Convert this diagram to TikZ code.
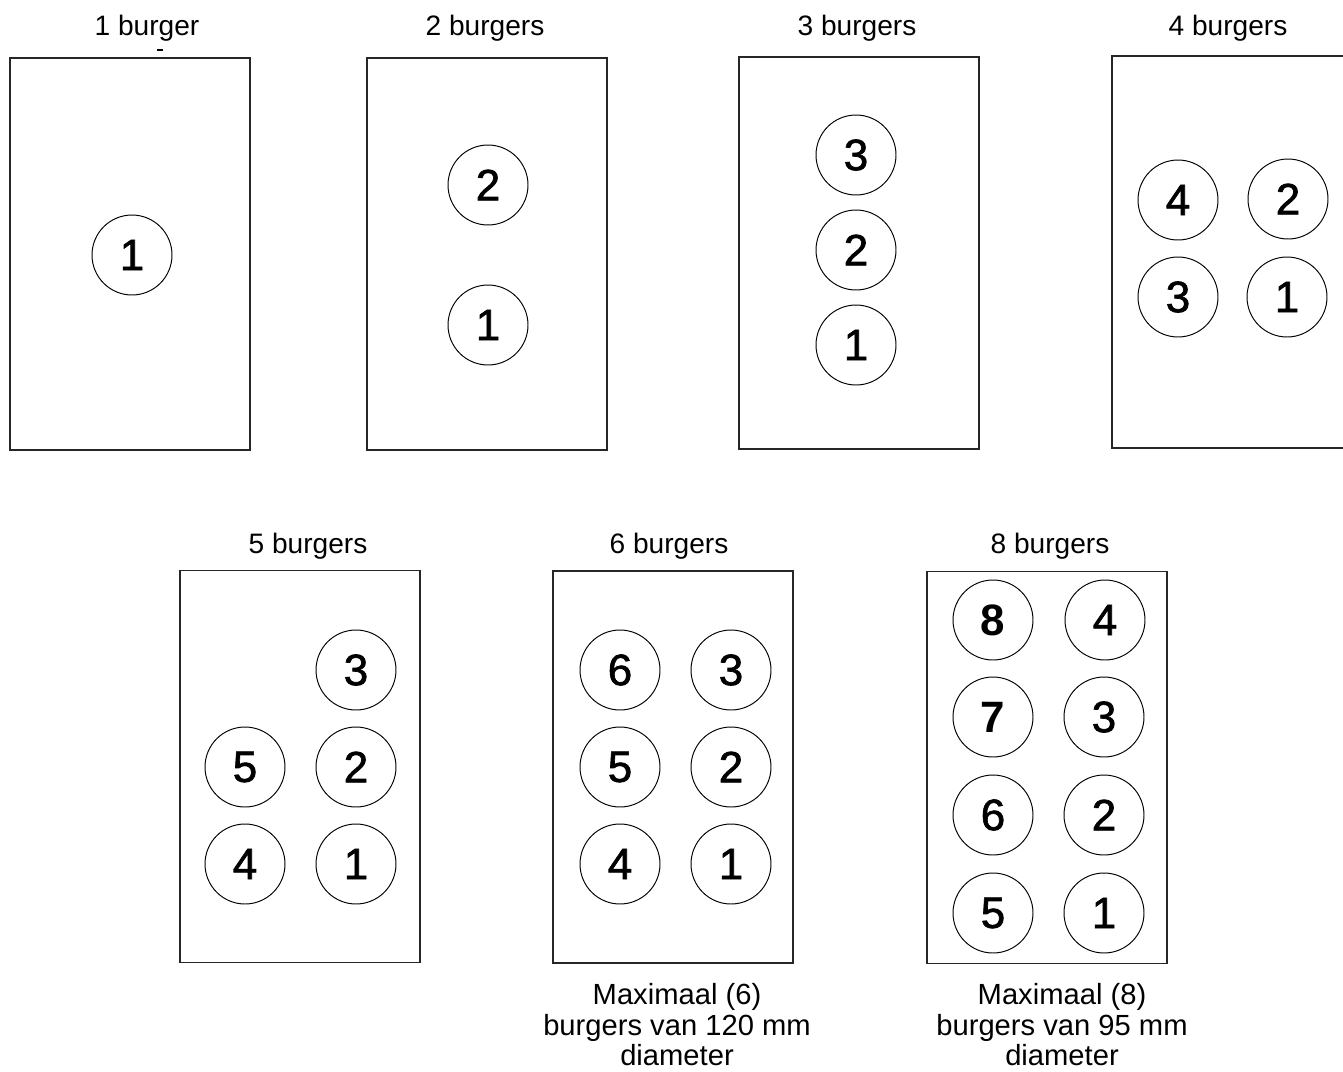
\documentclass[tikz,border=0pt]{standalone}
\usepackage{fontspec}
\setmainfont{Liberation Sans}
\newfontfamily\digitfont{Liberation Sans}[FakeBold=1.5]
\begin{document}
\begin{tikzpicture}[
x=0.02cm, y=-0.02cm,
tray/.style={rectangle, draw=black!85, line width=0.7pt, minimum width=4.8cm, minimum height=7.84cm, inner sep=0pt},
burger/.style={circle, draw=black, line width=0.55pt, minimum size=1.6cm, inner sep=0pt, font=\fontsize{25}{25}\digitfont},
heavy/.style={burger, font=\fontsize{25}{25}\selectfont\bfseries},
heading/.style={anchor=base, inner sep=0pt, font=\fontsize{16}{16}\selectfont},
note/.style={anchor=north, inner sep=0pt, align=center, font=\fontsize{16.6}{17.4}\selectfont},
]
    \clip (0,0) rectangle (1343,1072);

    % top row
    \node[tray] (tray1) at (130,254) {};
    \node[tray] (tray2) at (487,254) {};
    \node[tray] (tray3) at (859,253) {};
    \node[tray] (tray4) at (1232,252) {};
    \node[heading] (title1) at (147,35) {1 burger};
    \node[heading] (title2) at (485,35) {2 burgers};
    \node[heading] (title3) at (857,35) {3 burgers};
    \node[heading] (title4) at (1228,35) {4 burgers};
    \draw[line width=1.2pt] (157,50) -- (163,50);

    \node[burger] (t1-1) at (132,255) {1};
    \foreach \n/\x/\y in {2/488/185, 1/488/325}
        \node[burger] (t2-\n) at (\x,\y) {\n};
    \foreach \n/\x/\y in {3/856/155, 2/856/250, 1/856/345}
        \node[burger] (t3-\n) at (\x,\y) {\n};
    \foreach \n/\x/\y in {4/1178/200, 2/1288/199, 3/1178/297, 1/1287/297}
        \node[burger] (t4-\n) at (\x,\y) {\n};

    % bottom row
    \node[tray] (tray5) at (300,766.5) {};
    \node[tray] (tray6) at (673,767) {};
    \node[tray] (tray8) at (1047,767.5) {};
    \node[heading] (title5) at (308,553) {5 burgers};
    \node[heading] (title6) at (669,553) {6 burgers};
    \node[heading] (title8) at (1050,553) {8 burgers};

    \foreach \n/\x/\y in {3/356/670, 5/245/767, 2/356/767, 4/245/864, 1/356/864}
        \node[burger] (t5-\n) at (\x,\y) {\n};
    \foreach \n/\x/\y in {6/620/670, 3/731/670, 5/620/767, 2/731/767, 4/620/864, 1/731/864}
        \node[burger] (t6-\n) at (\x,\y) {\n};
    \node[heavy] (t8-8) at (993,620) {8};
    \node[heavy] (t8-7) at (993,717) {7};
    \foreach \n/\x/\y in {4/1105/620, 3/1104/717, 6/993/815, 2/1104/815, 5/993/913, 1/1104/913}
        \node[burger] (t8-\n) at (\x,\y) {\n};

    \node[note] (note6) at (677,983) {Maximaal (6)\\burgers van 120 mm\\diameter};
    \node[note] (note8) at (1062,983) {Maximaal (8)\\burgers van 95 mm\\diameter};
\end{tikzpicture}
\end{document}
